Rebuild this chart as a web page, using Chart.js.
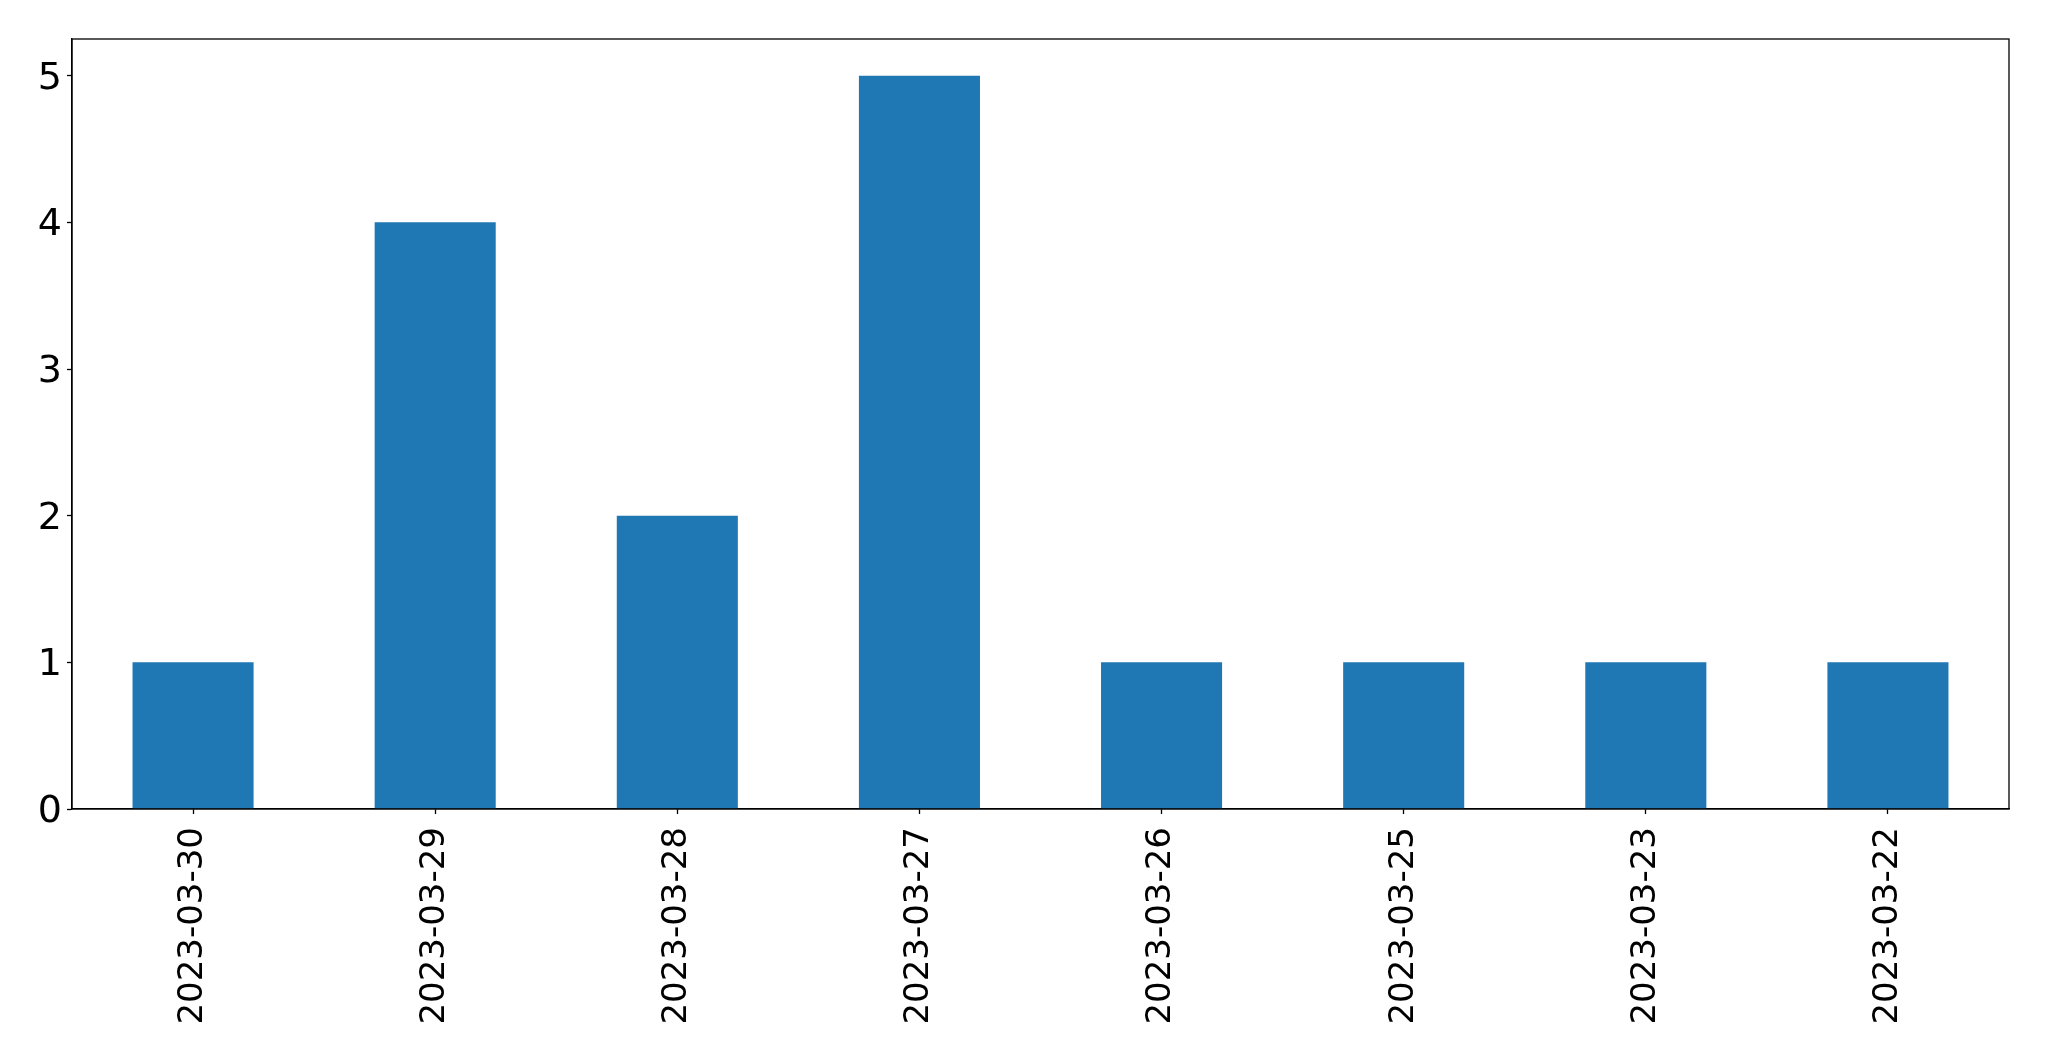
<!DOCTYPE html>
<html>
<head>
<meta charset="utf-8">
<script src="https://cdn.jsdelivr.net/npm/chart.js@4/dist/chart.umd.min.js"></script>
<style>
  html, body { margin: 0; padding: 0; background: #fff; }
  #wrap { width: 2049px; height: 1061px; }
</style>
</head>
<body>
<div id="wrap"><canvas id="chart" width="2049" height="1061"></canvas></div>
<script>
// dates as they appear on the x axis (newest first)
const dates = ['2023-03-30', '2023-03-29', '2023-03-28', '2023-03-27',
               '2023-03-26', '2023-03-25', '2023-03-23', '2023-03-22'];
const counts = [1, 4, 2, 5, 1, 1, 1, 1];
const yTicks = [0, 1, 2, 3, 4, 5];

// matplotlib-style frame around the plot area
const framePlugin = {
    id: 'frame',
    afterDraw(chart) {
        const { ctx, chartArea: a } = chart;
        ctx.save();
        ctx.strokeStyle = '#000';
        ctx.lineWidth = 1.3;
        ctx.strokeRect(a.left, a.top, a.right - a.left, a.bottom - a.top);
        ctx.restore();
    }
};

new Chart(document.getElementById('chart').getContext('2d'), {
    type: 'bar',
    data: {
        labels: dates,
        datasets: [{
            data: counts,
            backgroundColor: '#1f77b4',
            borderWidth: 0,
            categoryPercentage: 1.0,
            barPercentage: 0.5
        }]
    },
    options: {
        responsive: false,
        animation: false,
        layout: { padding: { left: 0, top: 39, right: 40, bottom: 0 } },
        plugins: {
            legend: { display: false },
            tooltip: { enabled: false }
        },
        scales: {
            x: {
                grid: {
                    offset: false, // ticks under bar centres
                    drawOnChartArea: false,
                    tickLength: 5,
                    tickColor: '#000',
                    tickWidth: 1.3
                },
                border: { color: '#000', width: 1.3 },
                ticks: {
                    color: '#000',
                    font: { family: 'DejaVu Sans', size: 34 },
                    minRotation: 90,
                    maxRotation: 90,
                    padding: 13,
                    autoSkip: false
                },
                afterFit(scale) { scale.height = 252; }
            },
            y: {
                min: 0,
                max: 5.25,
                grid: {
                    drawOnChartArea: false,
                    tickLength: 5,
                    tickColor: '#000',
                    tickWidth: 1.3
                },
                border: { color: '#000', width: 1.3 },
                ticks: {
                    color: '#000',
                    font: { family: 'DejaVu Sans', size: 38 },
                    padding: 5,
                    labelOffset: 3
                },
                afterBuildTicks(scale) {
                    scale.ticks = yTicks.map(v => ({ value: v }));
                },
                afterFit(scale) { scale.width = 72; }
            }
        }
    },
    plugins: [framePlugin]
});
</script>
</body>
</html>
